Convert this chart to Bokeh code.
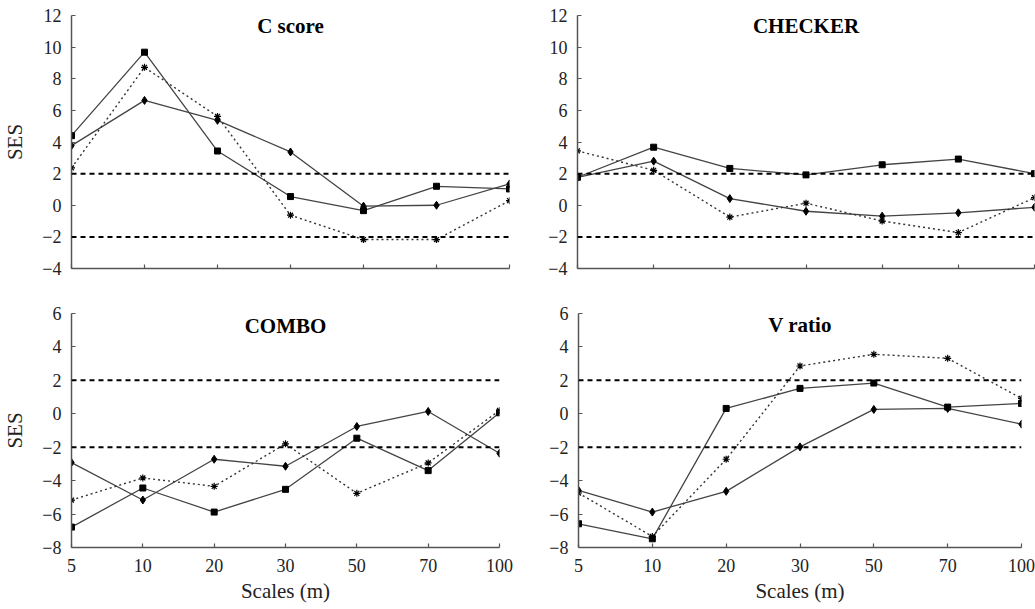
from bokeh.plotting import figure
from bokeh.layouts import column, row
from bokeh.models import Label, Span, FixedTicker
from bokeh.embed import file_html
from bokeh.resources import INLINE

scales = ["5", "10", "20", "30", "50", "70", "100"]

cscore_sq = [4.4, 9.68, 3.43, 0.55, -0.34, 1.2, 1.03]
cscore_di = [3.77, 6.63, 5.37, 3.37, -0.06, 0.0, 1.35]
cscore_x = [2.36, 8.72, 5.62, -0.63, -2.17, -2.17, 0.29]

checker_sq = [1.77, 3.67, 2.33, 1.92, 2.56, 2.92, 2.0]
checker_di = [1.77, 2.79, 0.42, -0.38, -0.69, -0.48, -0.13]
checker_x = [3.44, 2.21, -0.75, 0.13, -1.0, -1.73, 0.48]

combo_sq = [-6.78, -4.44, -5.88, -4.52, -1.46, -3.4, 0.06]
combo_di = [-2.92, -5.16, -2.72, -3.14, -0.76, 0.14, -2.36]
combo_x = [-5.16, -3.84, -4.34, -1.8, -4.76, -2.94, 0.2]

vratio_sq = [-6.58, -7.48, 0.32, 1.52, 1.84, 0.4, 0.62]
vratio_di = [-4.58, -5.88, -4.64, -1.98, 0.26, 0.32, -0.62]
vratio_x = [-4.74, -7.34, -2.72, 2.86, 3.56, 3.32, 0.92]

top_ticks = [-4, -2, 0, 2, 4, 6, 8, 10, 12]
bottom_ticks = [-8, -6, -4, -2, 0, 2, 4, 6]

FONT = "'Liberation Serif', 'Times New Roman', serif"
LINE = "#444444"
AXIS = "#555555"


def panel(title, sq, di, xs, yr, yticks, show_x, show_ylab, bl, fw, br, fh, bt, bb, title_y):
    idx = list(range(len(scales)))
    p = figure(output_backend="svg", toolbar_location=None,
               frame_width=fw, frame_height=fh,
               min_border_left=bl, min_border_right=br,
               min_border_top=bt, min_border_bottom=bb,
               x_range=(0, len(scales) - 1), y_range=yr,
               outline_line_color=None, background_fill_color="white")
    p.xgrid.visible = False
    p.ygrid.visible = False
    for ax in (p.xaxis, p.yaxis):
        ax.axis_line_color = AXIS
        ax.axis_line_width = 1.5
        ax.major_tick_line_color = AXIS
        ax.major_tick_line_width = 1.2
        ax.major_tick_in = 4
        ax.major_tick_out = 0
        ax.minor_tick_line_color = None
        ax.major_label_text_font = FONT
        ax.major_label_text_font_size = "18px"
        ax.major_label_text_color = "#222222"
        ax.axis_label_text_font = FONT
        ax.axis_label_text_font_style = "normal"
        ax.axis_label_text_font_size = "21px"
        ax.axis_label_text_color = "#222222"
    p.xaxis.ticker = FixedTicker(ticks=idx)
    p.xaxis.major_label_standoff = 11
    if not show_x:
        p.xaxis.major_label_overrides = {i: "" for i in idx}
    else:
        p.xaxis.major_label_overrides = {i: s for i, s in enumerate(scales)}
        p.xaxis.axis_label = "Scales (m)"
        p.xaxis.axis_label_standoff = 4
    p.yaxis.ticker = FixedTicker(ticks=yticks)
    p.yaxis.major_label_standoff = 10
    if show_ylab:
        p.yaxis.axis_label = "SES"
        p.yaxis.axis_label_standoff = 12

    for v in (2, -2):
        p.add_layout(Span(location=v, dimension="width", line_color="black",
                          line_width=2, line_dash="5 4"))

    p.line(idx, sq, line_color=LINE, line_width=1.3)
    p.line(idx, di, line_color=LINE, line_width=1.3)
    p.line(idx, xs, line_color="#333333", line_width=1.4, line_dash="2 3")
    p.scatter(idx, sq, marker="square", size=6, color="black")
    p.scatter(idx, di, marker="diamond", size=8, color="black")
    p.scatter(idx, xs, marker="asterisk", size=7, line_color="black", line_width=1.2)

    p.add_layout(Label(x=(len(scales) - 1) / 2, y=title_y, y_units="screen", text=title,
                       text_font=FONT, text_font_style="bold", text_font_size="21px",
                       text_align="center", text_baseline="middle", text_color="black"))
    return p


p1 = panel("C score", cscore_sq, cscore_di, cscore_x, (-4, 12), top_ticks, False, True,
           69, 438, 8, 253, 15, 32, 243)
p2 = panel("CHECKER", checker_sq, checker_di, checker_x, (-4, 12), top_ticks, False, False,
           60, 457, 3, 253, 15, 32, 243)
p3 = panel("COMBO", combo_sq, combo_di, combo_x, (-8, 6), bottom_ticks, True, True,
           68, 428, 19, 234, 13, 60, 222)
p4 = panel("V ratio", vratio_sq, vratio_di, vratio_x, (-8, 6), bottom_ticks, True, False,
           60, 443, 17, 234, 13, 60, 223)

layout = column(row(p1, p2), row(p3, p4))
open("out.html", "w").write(file_html(layout, INLINE))
